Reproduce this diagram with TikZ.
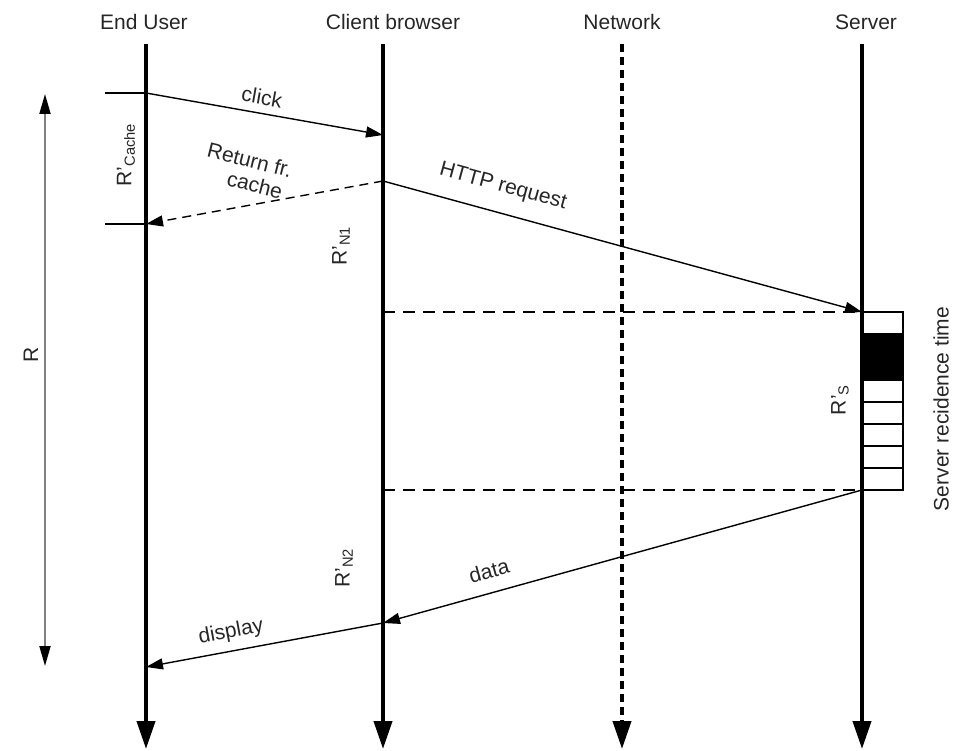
\documentclass[tikz,border=0pt]{standalone}
\usepackage{fontspec}
\setmainfont{Liberation Sans}
\usetikzlibrary{arrows.meta}
\begin{document}
\begin{tikzpicture}[x=1pt,y=-1pt,
  every node/.style={font=\fontsize{21}{24}\selectfont, text=black!85, inner sep=0pt},
  lifeline/.style={line width=4pt,-{Triangle[length=28pt,width=18pt]}},
  netline/.style={line width=4pt,dash pattern=on 8pt off 5pt,-{Triangle[length=28pt,width=18pt]}},
  msg/.style={line width=1.4pt,-{Triangle[length=17pt,width=11pt]}},
  dmsg/.style={msg,dash pattern=on 9pt off 6pt},
  guide/.style={line width=1.2pt,dash pattern=on 12pt off 8pt},
  tick/.style={line width=1.2pt},
  span/.style={line width=2pt,draw=black!50,{Triangle[length=20pt,width=11pt,black]}-{Triangle[length=20pt,width=11pt,black]}},
  cell/.style={draw,line width=1.2pt,fill=white},
  vlabel/.style={rotate=90}
]
\useasboundingbox (0,0) rectangle (954,751);

% lifeline ends
\coordinate (u0) at (146,44);  \coordinate (u1) at (146,749);
\coordinate (b0) at (383,44);  \coordinate (b1) at (383,749);
\coordinate (n0) at (622,44);  \coordinate (n1) at (622,749);
\coordinate (s0) at (862,44);  \coordinate (s1) at (862,749);

% headers
\node (hu) at (144,22) {End User};
\node (hb) at (393,22) {Client browser};
\node (hn) at (622,22) {Network};
\node (hs) at (866,22) {Server};

% message points on the lifelines
\coordinate (uClick) at (146,93);
\coordinate (bClick) at (383,135);
\coordinate (bReq)   at (383,181);
\coordinate (uCache) at (146,224);
\coordinate (sIn)    at (862,312);
\coordinate (sOut)   at (862,490);
\coordinate (bIn)    at (383,312);
\coordinate (bOut)   at (383,490);
\coordinate (bData)  at (383,623);
\coordinate (uDisp)  at (146,667);
\coordinate (tk1)    at (105,93);
\coordinate (tk2)    at (105,224);
\coordinate (rTop)   at (45,94);
\coordinate (rBot)   at (45,666);

% server residence box
\foreach \a/\b in {312/334,380/402,402/424,424/446,446/468,468/490}
  \draw[cell] (862,\a) rectangle (903,\b);
\draw[cell,fill=black] (862,334) rectangle (903,380);

% lifelines
\draw[lifeline] (u0) -- (u1);
\draw[lifeline] (b0) -- (b1);
\draw[netline]  (n0) -- (n1);
\draw[lifeline] (s0) -- (s1);

% cache interval ticks
\draw[tick] (tk1) -- (uClick);
\draw[tick] (tk2) -- (uCache);

% server interval guides
\draw[guide] (bIn) -- (sIn);
\draw[guide] (bOut) -- (sOut);

% messages
\draw[msg]  (uClick) -- (bClick);
\draw[dmsg] (bReq) -- (uCache);
\draw[msg]  (bReq) -- (sIn);
\draw[msg]  (sOut) -- (bData);
\draw[msg]  (bData) -- (uDisp);

% total response time
\draw[span] (rTop) -- (rBot);
\node[vlabel] (lR) at (31,355) {R};

% message labels
\node[rotate=-10] (lClick) at (262,97) {click};
\node[rotate=-14,align=center,font=\fontsize{21}{23}\selectfont] (lRet) at (247,171) {Return fr.\\\hspace*{22pt}cache};
\node[rotate=-15.3] (lReq) at (503,187) {HTTP request};
\node[rotate=15.5] (lData) at (489,571) {data};
\node[rotate=10.5] (lDisp) at (231,632) {display};

% interval labels
\node[vlabel] (lCache) at (126,155) {R’\textsubscript{Cache}};
\node[vlabel] (lN1) at (341,246) {R’\textsubscript{N1}};
\node[vlabel] (lN2) at (344,568) {R’\textsubscript{N2}};
\node[vlabel] (lS) at (840,400) {R’\textsubscript{S}};
\node[vlabel] (lRes) at (941,409) {Server recidence time};
\end{tikzpicture}
\end{document}
